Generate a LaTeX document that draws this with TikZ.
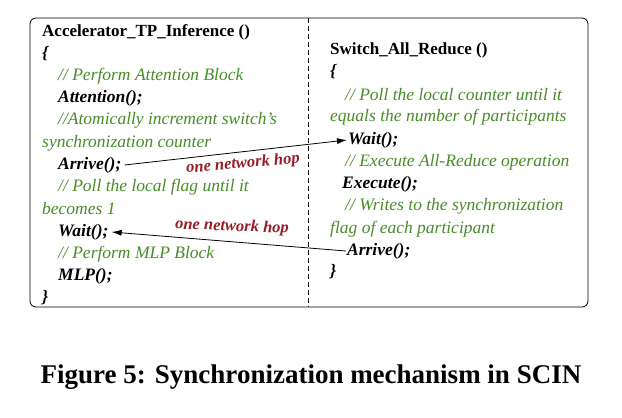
\documentclass[tikz,border=0pt]{standalone}
\usepackage{fontspec}
\setmainfont{Liberation Serif}
\usetikzlibrary{arrows.meta}
\definecolor{cmtgreen}{RGB}{72,140,40}
\definecolor{hopred}{RGB}{150,30,40}
\tikzset{
	code/.style = {anchor=west, inner sep=0pt, font=\fontsize{17.5}{19}\selectfont},
	cmt/.style = {code, text=cmtgreen, font=\fontsize{17.5}{19}\selectfont\itshape},
	fn/.style = {code, font=\fontsize{17.5}{19}\selectfont\bfseries\itshape},
	hop/.style = {inner sep=0pt, text=hopred, font=\fontsize{16.5}{18}\selectfont\bfseries\itshape},
	msg/.style = {thick, -{Latex[length=10pt,width=6pt]}}
}
\begin{document}
\begin{tikzpicture}[x=1pt,y=-1pt]
	\useasboundingbox (0,0) rectangle (622,418);
	%Rahmen
	\draw[thick, rounded corners=6pt] (30,18) rectangle (588,307);
	\draw[line width=1pt, dash pattern=on 5pt off 3pt] (308,18) -- (308,307);
	
	%Accelerator
	\node[code, font=\fontsize{17}{19}\selectfont\bfseries] (acc) at (42,32) {Accelerator\_TP\_Inference ()};
	\node[fn] (lbrA) at (42,54) {\{};
	\node[cmt] (c1) at (58,76) {// Perform Attention Block};
	\node[fn] (att) at (58,98) {Attention();};
	\node[cmt] (c2) at (58,120) {//Atomically increment switch's};
	\node[cmt] (c2b) at (42,143) {synchronization counter};
	\node[fn] (arrA) at (58,165) {Arrive();};
	\node[cmt] (c3) at (58,187) {// Poll the local flag until it};
	\node[cmt] (c3b) at (42,209) {becomes 1};
	\node[fn] (waitA) at (58,232) {Wait();};
	\node[cmt] (c4) at (58,254) {// Perform MLP Block};
	\node[fn] (mlp) at (58,276) {MLP();};
	\node[fn] (rbrA) at (42,298) {\}};
	
	%Switch
	\node[code, font=\fontsize{17}{19}\selectfont\bfseries] (sw) at (330,50) {Switch\_All\_Reduce ()};
	\node[fn] (lbrS) at (330,72) {\{};
	\node[cmt] (s1) at (345,95) {// Poll the local counter until it};
	\node[cmt] (s1b) at (330,117) {equals the number of participants};
	\node[fn] (waitS) at (348,140) {Wait();};
	\node[cmt] (s2) at (345,162) {// Execute All-Reduce operation};
	\node[fn] (exe) at (342,184) {Execute();};
	\node[cmt] (s3) at (345,206) {// Writes to the synchronization};
	\node[cmt] (s3b) at (330,229) {flag of each participant};
	\node[fn] (arrS) at (347,251) {Arrive();};
	\node[fn] (rbrS) at (330,272) {\}};
	
	%hops
	\draw[msg] ([xshift=3pt]arrA.east) -- ([xshift=-1pt]waitS.west);
	\draw[msg] ([xshift=-1pt]arrS.west) -- ([xshift=3pt]waitA.east);
	\node[hop, rotate=5] (hop1) at (243,164) {one network hop};
	\node[hop, rotate=-2] (hop2) at (232,227) {one network hop};
	
	%Caption
	\node[inner sep=0pt, font=\fontsize{27}{30}\selectfont\bfseries] (cap) at (311,377) {Figure 5: Synchronization mechanism in SCIN};
\end{tikzpicture}
\end{document}
